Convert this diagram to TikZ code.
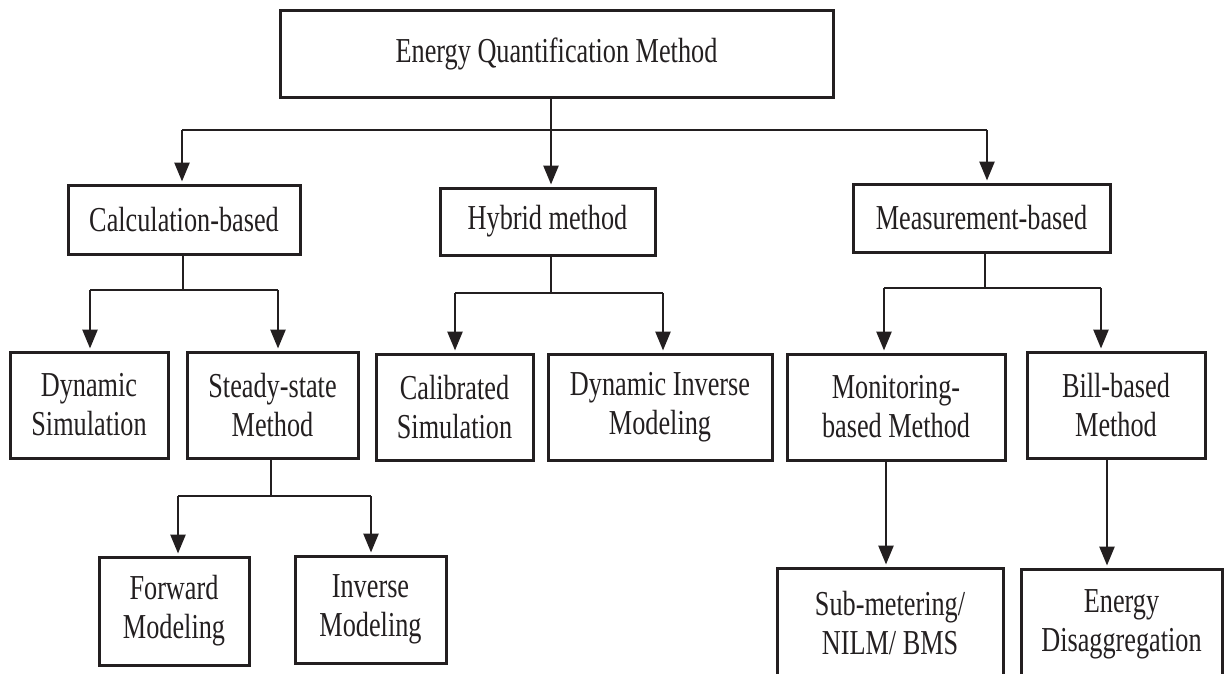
\documentclass[tikz,border=0pt]{standalone}
\usepackage{fontspec}
\setmainfont{Liberation Serif}[FakeStretch=0.75]
\usetikzlibrary{arrows.meta}
\definecolor{ink}{HTML}{231F20}
\begin{document}
\begin{tikzpicture}[x=1pt,y=-1pt,
  box/.style={draw=ink, line width=3pt, inner sep=0pt, align=center, text=ink,
    font=\fontsize{35}{39}\selectfont},
  conn/.style={line width=2.6pt, draw=ink},
  arr/.style={conn, -{Triangle[width=15pt,length=19pt]}, shorten >=2pt}]
\useasboundingbox (0,0) rectangle (1225,673);
\clip (0,0) rectangle (1225,673);
% boxes
\node[box, minimum width=553pt, minimum height=87pt] (top) at (556.5,53.5) {Energy Quantification Method};
\node[box, minimum width=232pt, minimum height=69pt] (calc) at (184,219.5) {Calculation-based};
\node[box, minimum width=215pt, minimum height=67pt] (hyb) at (547.5,221.5) {Hybrid method};
\node[box, minimum width=257pt, minimum height=68pt] (meas) at (981.5,218) {Measurement-based};
\node[box, minimum width=158pt, minimum height=106pt] (dyn) at (89,405) {Dynamic\\Simulation};
\node[box, minimum width=171pt, minimum height=106pt] (steady) at (272.5,405) {Steady-state\\Method};
\node[box, minimum width=157pt, minimum height=106pt] (cal) at (454.5,407) {Calibrated\\Simulation};
\node[box, minimum width=224pt, minimum height=106pt] (dinv) at (660,407) {Dynamic Inverse\\Modeling};
\node[box, minimum width=218pt, minimum height=106pt] (mon) at (896,407) {Monitoring-\\based Method};
\node[box, minimum width=178pt, minimum height=106pt] (bill) at (1116,405) {Bill-based\\Method};
\node[box, minimum width=150pt, minimum height=108pt] (fwd) at (174,611) {Forward\\Modeling};
\node[box, minimum width=151pt, minimum height=107pt] (inv) at (370.5,609.5) {Inverse\\Modeling};
\node[box, minimum width=226pt, minimum height=110pt] (sub) at (890,623) {Sub-metering/\\NILM/ BMS};
\node[box, minimum width=201pt, minimum height=110pt] (ed) at (1121.5,624) {Energy\\Disaggregation};
% junction coordinates
\coordinate (j0) at (551,130);
\coordinate (j0l) at (182,130);
\coordinate (j0r) at (987,130);
\coordinate (j1) at (183,290);
\coordinate (j1l) at (90,290);
\coordinate (j1r) at (278,290);
\coordinate (j2) at (551,293);
\coordinate (j2l) at (455,293);
\coordinate (j2r) at (663,293);
\coordinate (j3) at (985,288);
\coordinate (j3l) at (884,288);
\coordinate (j3r) at (1101,288);
\coordinate (j4) at (271,496);
\coordinate (j4l) at (178,496);
\coordinate (j4r) at (371,496);
\coordinate (j5) at (886,0);
\coordinate (j6) at (1107,0);
% connectors
\draw[conn] (top.south -| j0) -- (j0);
\draw[conn] (j0l) -- (j0r);
\draw[arr] (j0l) -- (j0l |- calc.north);
\draw[arr] (j0) -- (j0 |- hyb.north);
\draw[arr] (j0r) -- (j0r |- meas.north);
\draw[conn] (calc.south -| j1) -- (j1);
\draw[conn] (j1l) -- (j1r);
\draw[arr] (j1l) -- (j1l |- dyn.north);
\draw[arr] (j1r) -- (j1r |- steady.north);
\draw[conn] (hyb.south -| j2) -- (j2);
\draw[conn] (j2l) -- (j2r);
\draw[arr] (j2l) -- (j2l |- cal.north);
\draw[arr] (j2r) -- (j2r |- dinv.north);
\draw[conn] (meas.south -| j3) -- (j3);
\draw[conn] (j3l) -- (j3r);
\draw[arr] (j3l) -- (j3l |- mon.north);
\draw[arr] (j3r) -- (j3r |- bill.north);
\draw[conn] (steady.south -| j4) -- (j4);
\draw[conn] (j4l) -- (j4r);
\draw[arr] (j4l) -- (j4l |- fwd.north);
\draw[arr] (j4r) -- (j4r |- inv.north);
\draw[arr] (mon.south -| j5) -- (sub.north -| j5);
\draw[arr] (bill.south -| j6) -- (ed.north -| j6);
\end{tikzpicture}
\end{document}
